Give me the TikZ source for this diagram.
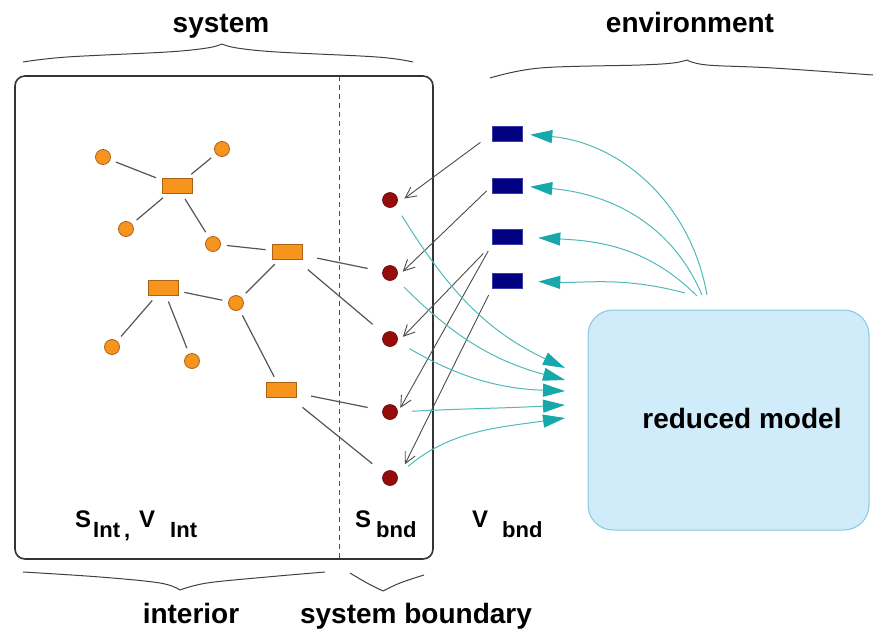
\documentclass[tikz,border=0pt]{standalone}
\usepackage{fontspec}
\setmainfont{Liberation Sans}
\usetikzlibrary{arrows.meta}

\definecolor{nodeorange}{RGB}{247,148,30}
\definecolor{orangeedge}{RGB}{170,98,22}
\definecolor{bndred}{RGB}{150,12,12}
\definecolor{bndredge}{RGB}{95,0,0}
\definecolor{envblue}{RGB}{0,0,128}
\definecolor{envedge}{RGB}{60,60,170}
\definecolor{flowteal}{RGB}{22,168,170}
\definecolor{flowline}{RGB}{80,185,185}
\definecolor{modelfill}{RGB}{208,235,250}
\definecolor{modeledge}{RGB}{135,200,222}
\definecolor{linkgray}{RGB}{85,85,85}

\newcommand\lowtext[1]{\raisebox{-10pt}{\fontsize{22}{22}\selectfont #1}}

\tikzset{
  intdot/.style={circle, fill=nodeorange, draw=orangeedge, line width=0.8pt,
    minimum size=15pt, inner sep=0pt},
  intbox/.style={rectangle, fill=nodeorange, draw=orangeedge, line width=0.8pt,
    minimum width=30pt, minimum height=15pt, inner sep=0pt},
  bnddot/.style={circle, fill=bndred, draw=bndredge, line width=0.6pt,
    minimum size=15pt, inner sep=0pt},
  envbox/.style={rectangle, fill=envblue, draw=envedge, line width=0.6pt,
    minimum width=30pt, minimum height=15pt, inner sep=0pt},
  link/.style={draw=linkgray, line width=1.2pt, shorten <=6pt, shorten >=6pt},
  longlink/.style={link, shorten <=15pt, shorten >=15pt},
  feed/.style={draw=black!70, line width=0.9pt,
    -{Straight Barb[length=11pt,width=11pt]}},
  flow/.style={draw=flowline, line width=1pt,
    -{Triangle[length=22pt,width=13pt,color=flowteal]}},
  bracket/.style={draw=black!75, line width=1pt},
  heading/.style={font=\fontsize{28}{30}\selectfont\bfseries, anchor=base},
  symb/.style={font=\fontsize{24}{24}\selectfont\bfseries, anchor=base west, inner sep=0pt},
}

\begin{document}
\begin{tikzpicture}[x=1pt,y=1pt]
\useasboundingbox (0,0) rectangle (876,-632);

% system frame and interior/boundary separator
\draw[rounded corners=10pt, line width=1.6pt, draw=black!80] (15,-76) rectangle (433,-559);
\draw[dashed, dash pattern=on 5pt off 4pt, line width=0.8pt, draw=black!70] (339,-76) -- (339,-559);

% braces
\draw[bracket] plot[smooth, tension=0.6] coordinates {(23,-62) (67,-57) (167,-52) (207,-48) (222,-44)};
\draw[bracket] plot[smooth, tension=0.6] coordinates {(222,-44) (237,-48) (277,-52) (377,-57) (413,-62)};
\draw[bracket] plot[smooth, tension=0.6] coordinates {(490,-78) (540,-68) (640,-65) (673,-63) (687,-60)};
\draw[bracket] plot[smooth, tension=0.6] coordinates {(687,-60) (707,-65) (773,-68) (873,-75)};
\draw[bracket] plot[smooth, tension=0.6] coordinates {(23,-572) (100,-577) (160,-583) (180,-590)};
\draw[bracket] plot[smooth, tension=0.6] coordinates {(180,-590) (207,-583) (267,-577) (325,-572)};
\draw[bracket] plot[smooth, tension=0.6] coordinates {(350,-573) (367,-583) (383,-591)};
\draw[bracket] plot[smooth, tension=0.6] coordinates {(383,-591) (400,-583) (424,-575)};

% headings
\node[heading] (tsys) at (221,-32) {system};
\node[heading] (tenv) at (690,-32) {environment};
\node[heading] (tint) at (191,-623) {interior};
\node[heading] (tbnd) at (416,-623) {system boundary};

% symbols
\node[symb] (sint) at (75,-527) {S\kern2pt\lowtext{Int\kern4pt,}\kern9pt V\kern15pt\lowtext{Int}};
\node[symb] (sbnd) at (355,-527) {S\kern5pt\lowtext{bnd}};
\node[symb] (vbnd) at (472,-527) {V\kern14pt\lowtext{bnd}};

% interior network
\node[intdot] (A) at (103,-157) {};
\node[intdot] (B) at (222,-149) {};
\node[intbox] (R1) at (177,-186) {};
\node[intdot] (C) at (126,-229) {};
\node[intdot] (D) at (213,-244) {};
\node[intbox] (R2) at (287,-252) {};
\node[intbox] (R3) at (163,-288) {};
\node[intdot] (E) at (236,-303) {};
\node[intdot] (F) at (112,-347) {};
\node[intdot] (G) at (192,-361) {};
\node[intbox] (R4) at (281,-390) {};

% boundary states
\node[bnddot] (b1) at (390,-200) {};
\node[bnddot] (b2) at (390,-273) {};
\node[bnddot] (b3) at (390,-339) {};
\node[bnddot] (b4) at (390,-412) {};
\node[bnddot] (b5) at (390,-478) {};

% environment variables
\node[envbox] (v1) at (507,-134) {};
\node[envbox] (v2) at (507,-186) {};
\node[envbox] (v3) at (507,-237) {};
\node[envbox] (v4) at (507,-281) {};

% reduced model
\node[rectangle, rounded corners=25pt, fill=modelfill, draw=modeledge, line width=1pt,
      minimum width=281pt, minimum height=220pt] (model) at (728.5,-420) {};
\node[font=\fontsize{28}{30}\selectfont\bfseries] (mtext) at (742,-418) {reduced model};

% interior links
\draw[link] (A) -- (R1);
\draw[link] (B) -- (R1);
\draw[link] (C) -- (R1);
\draw[link] (D) -- (R1);
\draw[link] (D) -- (R2);
\draw[link] (R2) -- (E);
\draw[link] (R3) -- (E);
\draw[link] (R3) -- (F);
\draw[link] (R3) -- (G);
\draw[link] (E) -- (R4);
\draw[longlink] (R2) -- (b2);
\draw[longlink] (R2) -- (b3);
\draw[longlink] (R4) -- (b4);
\draw[longlink] (R4) -- (b5);

% environment acting on boundary
\draw[feed, shorten <=14pt, shorten >=10pt] (v1.west) -- (b1.-35);
\draw[feed, shorten <=7pt, shorten >=10pt] (v2.west) -- (b2.-45);
\draw[feed, shorten <=12pt, shorten >=10pt] (v3.south west) -- (b3.-40);
\draw[feed, shorten <=7pt, shorten >=12pt] (v3.south west) -- (b4.-55);
\draw[feed, shorten <=7pt, shorten >=16pt] (v4.south west) -- (b5.-5);

% boundary feeding the reduced model
\coordinate (t1) at (565,-368);
\coordinate (t2) at (565,-380);
\coordinate (t3) at (565,-391);
\coordinate (t4) at (565,-405);
\coordinate (t5) at (565,-418);
\draw[flow, shorten <=12pt] (b1.-45) to[out=-58,in=155] (t1);
\draw[flow, shorten <=12pt] (b2.-45) to[out=-45,in=165] (t2);
\draw[flow, shorten <=14pt] (b3.-20) to[out=-30,in=178] (t3);
\draw[flow, shorten <=14pt] (b4.east) to[out=3,in=183] (t4);
\draw[flow, shorten <=14pt] (b5.20) to[out=40,in=-172] (t5);

% reduced model feeding the environment
\coordinate (s1) at (707,-295);
\coordinate (s2) at (702,-295);
\coordinate (s3) at (697,-296);
\coordinate (s4) at (685,-293);
\draw[flow, shorten >=8pt] (s1) to[out=100,in=-5] (v1.east);
\draw[flow, shorten >=8pt] (s2) to[out=113,in=-5] (v2.east);
\draw[flow, shorten >=16pt] (s3) to[out=135,in=-3] (v3.east);
\draw[flow, shorten >=16pt] (s4) to[out=165,in=-2] (v4.east);
\end{tikzpicture}
\end{document}
